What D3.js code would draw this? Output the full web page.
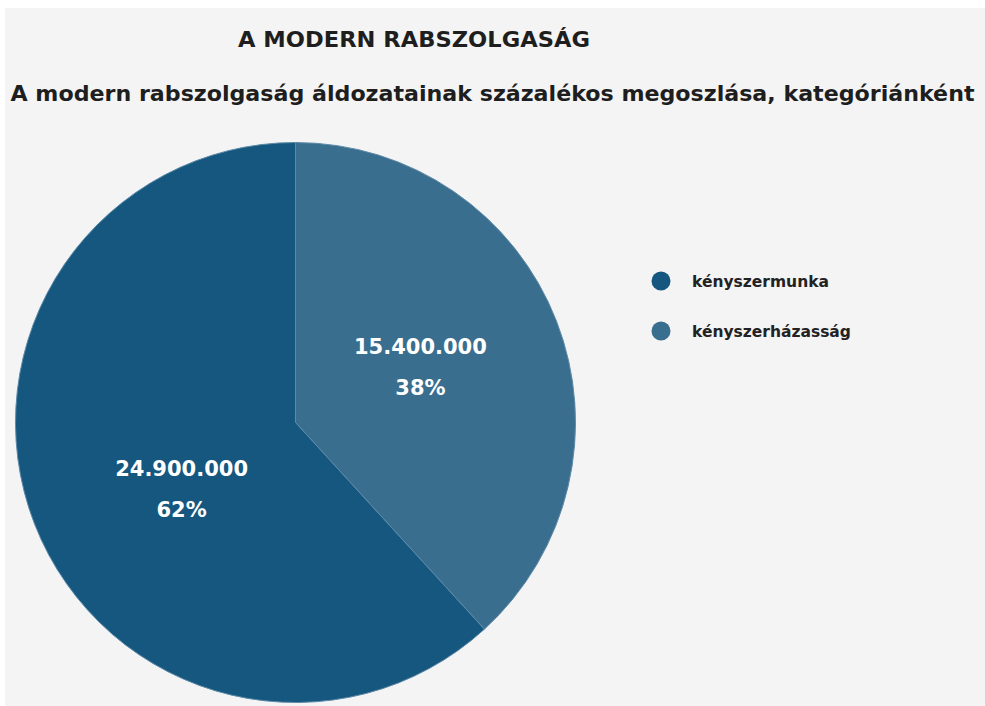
<!DOCTYPE html>
<html lang="hu">
<head>
  <meta charset="UTF-8">
  <title>A modern rabszolgaság</title>
  <script src="https://d3js.org/d3.v7.min.js"></script>
  <style>
    body { margin: 0; background: #ffffff; }
    svg { display: block; }
    text { font-family: "DejaVu Sans", Verdana, sans-serif; }
  </style>
</head>
<body>
  <div id="chart"></div>
  <script>
    // data
    const categories = ["kényszerházasság", "kényszermunka"];
    const values = [15400000, 24900000];
    const valueLabels = ["15.400.000", "24.900.000"];
    const percentLabels = ["38%", "62%"];
    const legendOrder = ["kényszermunka", "kényszerházasság"];

    const width = 985, height = 706;
    const cx = 295.5, cy = 422.5, radius = 280;

    const color = d3.scaleOrdinal()
      .domain(categories)
      .range(["#3a6e8f", "#15577f"]);

    const svg = d3.select("#chart").append("svg")
      .attr("width", width)
      .attr("height", height);

    svg.append("rect")
      .attr("x", 5).attr("y", 8)
      .attr("width", width - 5).attr("height", height - 8)
      .attr("fill", "#f4f4f4");

    // titles (stretched to the width they take in the picture)
    svg.append("text")
      .attr("x", 414).attr("y", 47)
      .attr("text-anchor", "middle")
      .attr("font-size", 21)
      .attr("font-weight", 700)
      .attr("fill", "#1e1e1e")
      .attr("textLength", 352)
      .attr("lengthAdjust", "spacingAndGlyphs")
      .text("A MODERN RABSZOLGASÁG");

    svg.append("text")
      .attr("x", 492.5).attr("y", 101)
      .attr("text-anchor", "middle")
      .attr("font-size", 21)
      .attr("font-weight", 700)
      .attr("fill", "#1e1e1e")
      .attr("textLength", 964)
      .attr("lengthAdjust", "spacingAndGlyphs")
      .text("A modern rabszolgaság áldozatainak százalékos megoszlása, kategóriánként");

    const pie = d3.pie().sort(null).value(d => d.value);
    const arcs = pie(categories.map((c, i) => ({ name: c, value: values[i], i: i })));
    const arc = d3.arc().innerRadius(0).outerRadius(radius);
    const labelArc = d3.arc().innerRadius(134).outerRadius(134);
    const labelNudge = [[0, 0], [11, 25]];

    const g = svg.append("g").attr("transform", `translate(${cx},${cy})`);

    g.selectAll("path")
      .data(arcs)
      .join("path")
      .attr("d", arc)
      .attr("fill", d => color(d.data.name))
      .attr("stroke", "#5d8aa8")
      .attr("stroke-width", 1);

    const labels = g.selectAll("g.label")
      .data(arcs)
      .join("g")
      .attr("class", "label")
      .attr("transform", d => {
        const [x, y] = labelArc.centroid(d);
        const n = labelNudge[d.data.i];
        return `translate(${x + n[0]},${y + n[1]})`;
      });

    labels.append("text")
      .attr("text-anchor", "middle")
      .attr("y", -20)
      .attr("font-size", 21)
      .attr("font-weight", 700)
      .attr("fill", "#ffffff")
      .text(d => valueLabels[d.data.i]);

    labels.append("text")
      .attr("text-anchor", "middle")
      .attr("y", 21)
      .attr("font-size", 21)
      .attr("font-weight", 700)
      .attr("fill", "#ffffff")
      .text(d => percentLabels[d.data.i]);

    // legend
    const legend = svg.append("g").attr("transform", "translate(661,281)");
    legendOrder.forEach((name, i) => {
      const row = legend.append("g").attr("transform", `translate(0,${i * 50})`);
      row.append("circle").attr("r", 9.5).attr("fill", color(name));
      row.append("text")
        .attr("x", 31).attr("y", 6)
        .attr("font-size", 15.5)
        .attr("font-weight", 700)
        .attr("fill", "#222")
        .text(name);
    });
  </script>
</body>
</html>
